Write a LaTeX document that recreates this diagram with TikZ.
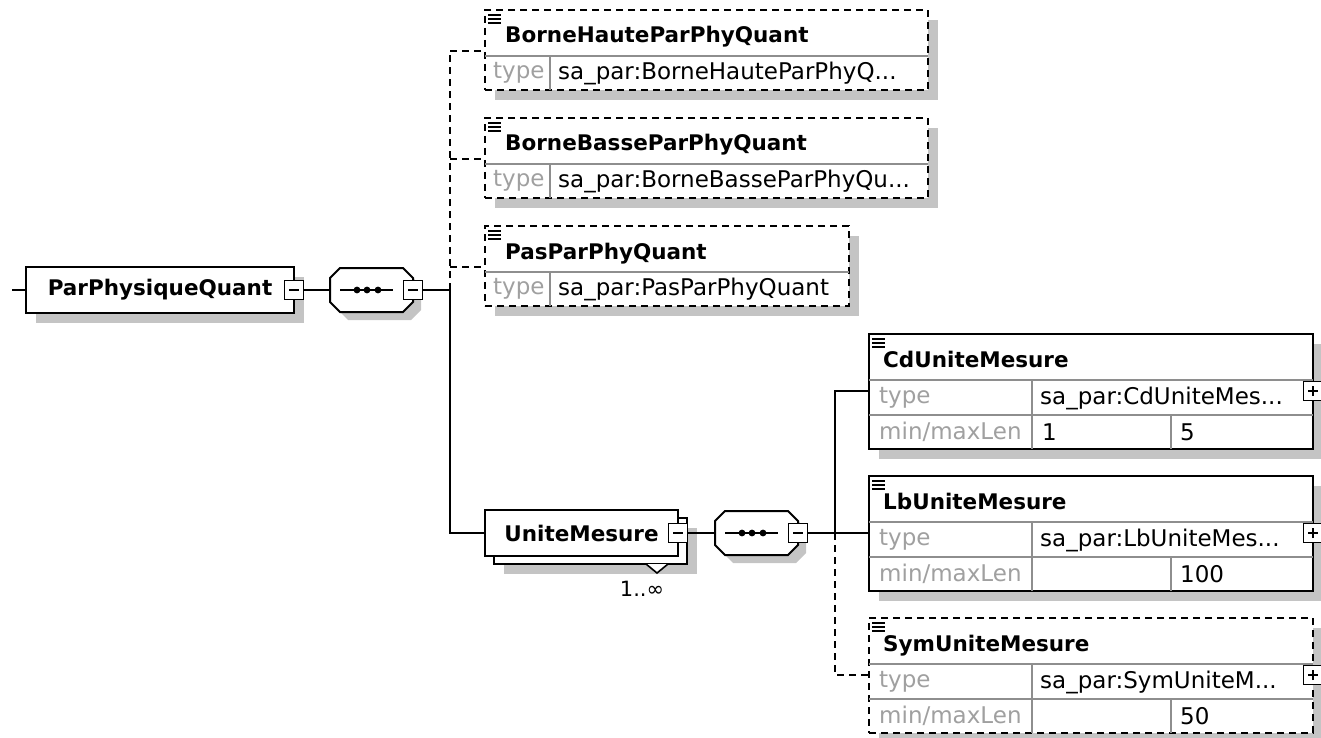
\documentclass[tikz,border=0pt]{standalone}
\usepackage{fontspec}
\setmainfont{DejaVu Sans}
\usetikzlibrary{positioning, shadows}
\definecolor{shadowGray}{HTML}{C4C4C4}
\definecolor{ruleGray}{HTML}{8E8E8E}
\definecolor{attrGray}{HTML}{A0A0A0}
\newcommand{\trunc}{...}
\tikzset{
    wire/.style={line width=2pt, black},
    optLine/.style={dash pattern=on 7pt off 5pt},
    plainBox/.style={
        rectangle,
        draw=black,
        fill=white,
        line width=2pt,
        inner sep=0pt,
        outer sep=0pt,
        anchor=north west,
        font=\bfseries\fontsize{21.5}{25}\selectfont
    },
    reqBox/.style={
        plainBox,
        drop shadow={shadow xshift=10pt, shadow yshift=-10pt, fill=shadowGray, opacity=1}
    },
    optBox/.style={reqBox, optLine},
    seqBox/.style={
        rectangle,
        inner sep=0pt,
        outer sep=0pt,
        minimum width=83pt,
        minimum height=44pt
    },
    seqLine/.style={
        draw=black,
        fill=white,
        line width=2pt,
        preaction={fill=shadowGray, transform canvas={shift={(8pt,-8pt)}}}
    },
    toggle/.style={
        rectangle,
        draw=black,
        fill=white,
        line width=1.8pt,
        minimum size=19pt,
        inner sep=0pt,
        outer sep=0pt
    },
    minusBox/.style={toggle, path picture={
        \draw[line width=1.8pt] ([xshift=-5pt]path picture bounding box.center) -- ([xshift=5pt]path picture bounding box.center);}},
    plusBox/.style={toggle, path picture={
        \draw[line width=1.8pt] ([xshift=-5pt]path picture bounding box.center) -- ([xshift=5pt]path picture bounding box.center);
        \draw[line width=1.8pt] ([yshift=-5pt]path picture bounding box.center) -- ([yshift=5pt]path picture bounding box.center);}},
    rule/.style={ruleGray, line width=2pt},
    icon/.style={line width=1.5pt},
    titleText/.style={anchor=base west, inner sep=0pt, font=\bfseries\fontsize{21.5}{25}\selectfont},
    attrText/.style={anchor=west, inner sep=0pt, text=attrGray, font=\fontsize{23}{27}\selectfont},
    valText/.style={attrText, text=black}
}

\begin{document}
\begin{tikzpicture}[x=1pt, y=-1pt]
    \useasboundingbox (0,0) rectangle (1321,738);

    % Root element
    \node[reqBox, minimum width=268pt, minimum height=46pt] (root) at (26,267) {ParPhysiqueQuant};
    \node[minusBox] (rootToggle) at (root.east) {};

    % UniteMesure (1..unbounded)
    \node[reqBox, minimum width=193pt, minimum height=46pt] (uniteBack) at (494,518) {};
    \node[plainBox, minimum width=193pt, minimum height=46pt] (unite) at (485,510) {UniteMesure};
    \node[minusBox] (uniteToggle) at (unite.east) {};
    \draw[line width=1.6pt, fill=white] (646,564) -- (657,573) -- (668,564);
    \node[inner sep=0pt, font=\fontsize{21}{25}\selectfont] (uniteCount) at (642,589) {1..∞};

    % Sequences
    \foreach \sq/\cx/\cy in {seqOne/371.5/290, seqTwo/756.5/533}{
        \node[seqBox] (\sq) at (\cx,\cy) {};
        \path[seqLine] ([xshift=10pt]\sq.north west) -- ([xshift=-10pt]\sq.north east)
            -- ([yshift=-10pt]\sq.north east) -- ([yshift=10pt]\sq.south east)
            -- ([xshift=-10pt]\sq.south east) -- ([xshift=10pt]\sq.south west)
            -- ([yshift=10pt]\sq.south west) -- ([yshift=-10pt]\sq.north west) -- cycle;
        \draw[wire] ([xshift=10pt]\sq.west) -- ([xshift=63pt]\sq.west);
        \foreach \dx in {27,37,48}
            \fill ([xshift=\dx pt]\sq.west) circle (3.4pt);
        \node[minusBox] (\sq Toggle) at (\sq.east) {};
    }

    % Optional children of the first sequence
    \foreach \nm/\ytop/\boxw/\title/\type in {
        haute/10/443/BorneHauteParPhyQuant/sa\_par:BorneHauteParPhyQ\trunc,
        basse/118/443/BorneBasseParPhyQuant/sa\_par:BorneBasseParPhyQu\trunc,
        pas/226/364/PasParPhyQuant/sa\_par:PasParPhyQuant}{
        \node[optBox, minimum width=\boxw pt, minimum height=80pt] (\nm) at (485,\ytop) {};
        \draw[rule] ([yshift=-46pt]\nm.north west) -- ([yshift=-46pt]\nm.north east);
        \draw[rule] ([shift={(65pt,-46pt)}]\nm.north west) -- ([xshift=65pt]\nm.south west);
        \foreach \dy in {5,9,13}
            \draw[icon] (488,\ytop+\dy) -- (501,\ytop+\dy);
        \node[titleText] (\nm-name) at (505,\ytop+33) {\title};
        \node[attrText] (\nm-key) at (493,\ytop+63) {type};
        \node[valText] (\nm-type) at (558,\ytop+63) {\type};
        \coordinate (\nm-tap) at (450,\ytop+41);
        \coordinate (\nm-in) at (485,\ytop+41);
        \draw[wire, optLine] (\nm-tap) -- (\nm-in);
    }

    % Leaves of UniteMesure
    \foreach \nm/\ytop/\title/\type/\minl/\maxl/\kind in {
        cd/334/CdUniteMesure/sa\_par:CdUniteMes\trunc/1/5/reqBox,
        lb/476/LbUniteMesure/sa\_par:LbUniteMes\trunc/{}/100/reqBox,
        sym/618/SymUniteMesure/sa\_par:SymUniteM\trunc/{}/50/optBox}{
        \node[\kind, minimum width=444pt, minimum height=115pt] (\nm) at (869,\ytop) {};
        \draw[rule] ([yshift=-46pt]\nm.north west) -- ([yshift=-46pt]\nm.north east);
        \draw[rule] ([yshift=-81pt]\nm.north west) -- ([yshift=-81pt]\nm.north east);
        \draw[rule] ([shift={(163pt,-46pt)}]\nm.north west) -- ([xshift=163pt]\nm.south west);
        \draw[rule] ([shift={(302pt,-81pt)}]\nm.north west) -- ([xshift=302pt]\nm.south west);
        \foreach \dy in {5,9,13}
            \draw[icon] (872,\ytop+\dy) -- (885,\ytop+\dy);
        \node[titleText] (\nm-name) at (883,\ytop+33) {\title};
        \node[attrText] (\nm-key) at (879,\ytop+64) {type};
        \node[valText] (\nm-type) at (1040,\ytop+64) {\type};
        \node[attrText] (\nm-lenKey) at (879,\ytop+98) {min/maxLen};
        \node[valText] (\nm-min) at (1042,\ytop+98) {\minl};
        \node[valText] (\nm-max) at (1180,\ytop+98) {\maxl};
        \coordinate (\nm-in) at (869,\ytop+57);
        \node[plusBox] (\nm-toggle) at (1313,\ytop+57) {};
    }

    % Connectors
    \coordinate (rootIn) at (12,290);
    \coordinate (jOne) at (450,290);
    \coordinate (jTwo) at (835,533);
    \draw[wire] (rootIn) -- (root.west);
    \draw[wire] (rootToggle.east) -- (seqOne.west);
    \draw[wire] (seqOneToggle.east) -- (jOne) |- (unite.west);
    \draw[wire, optLine] (jOne) -- (haute-tap);
    \draw[wire] (uniteToggle.east) -- (seqTwo.west);
    \draw[wire] (seqTwoToggle.east) -- (lb-in);
    \draw[wire] (jTwo) |- (cd-in);
    \draw[wire, optLine] (jTwo) |- (sym-in);
\end{tikzpicture}
\end{document}
